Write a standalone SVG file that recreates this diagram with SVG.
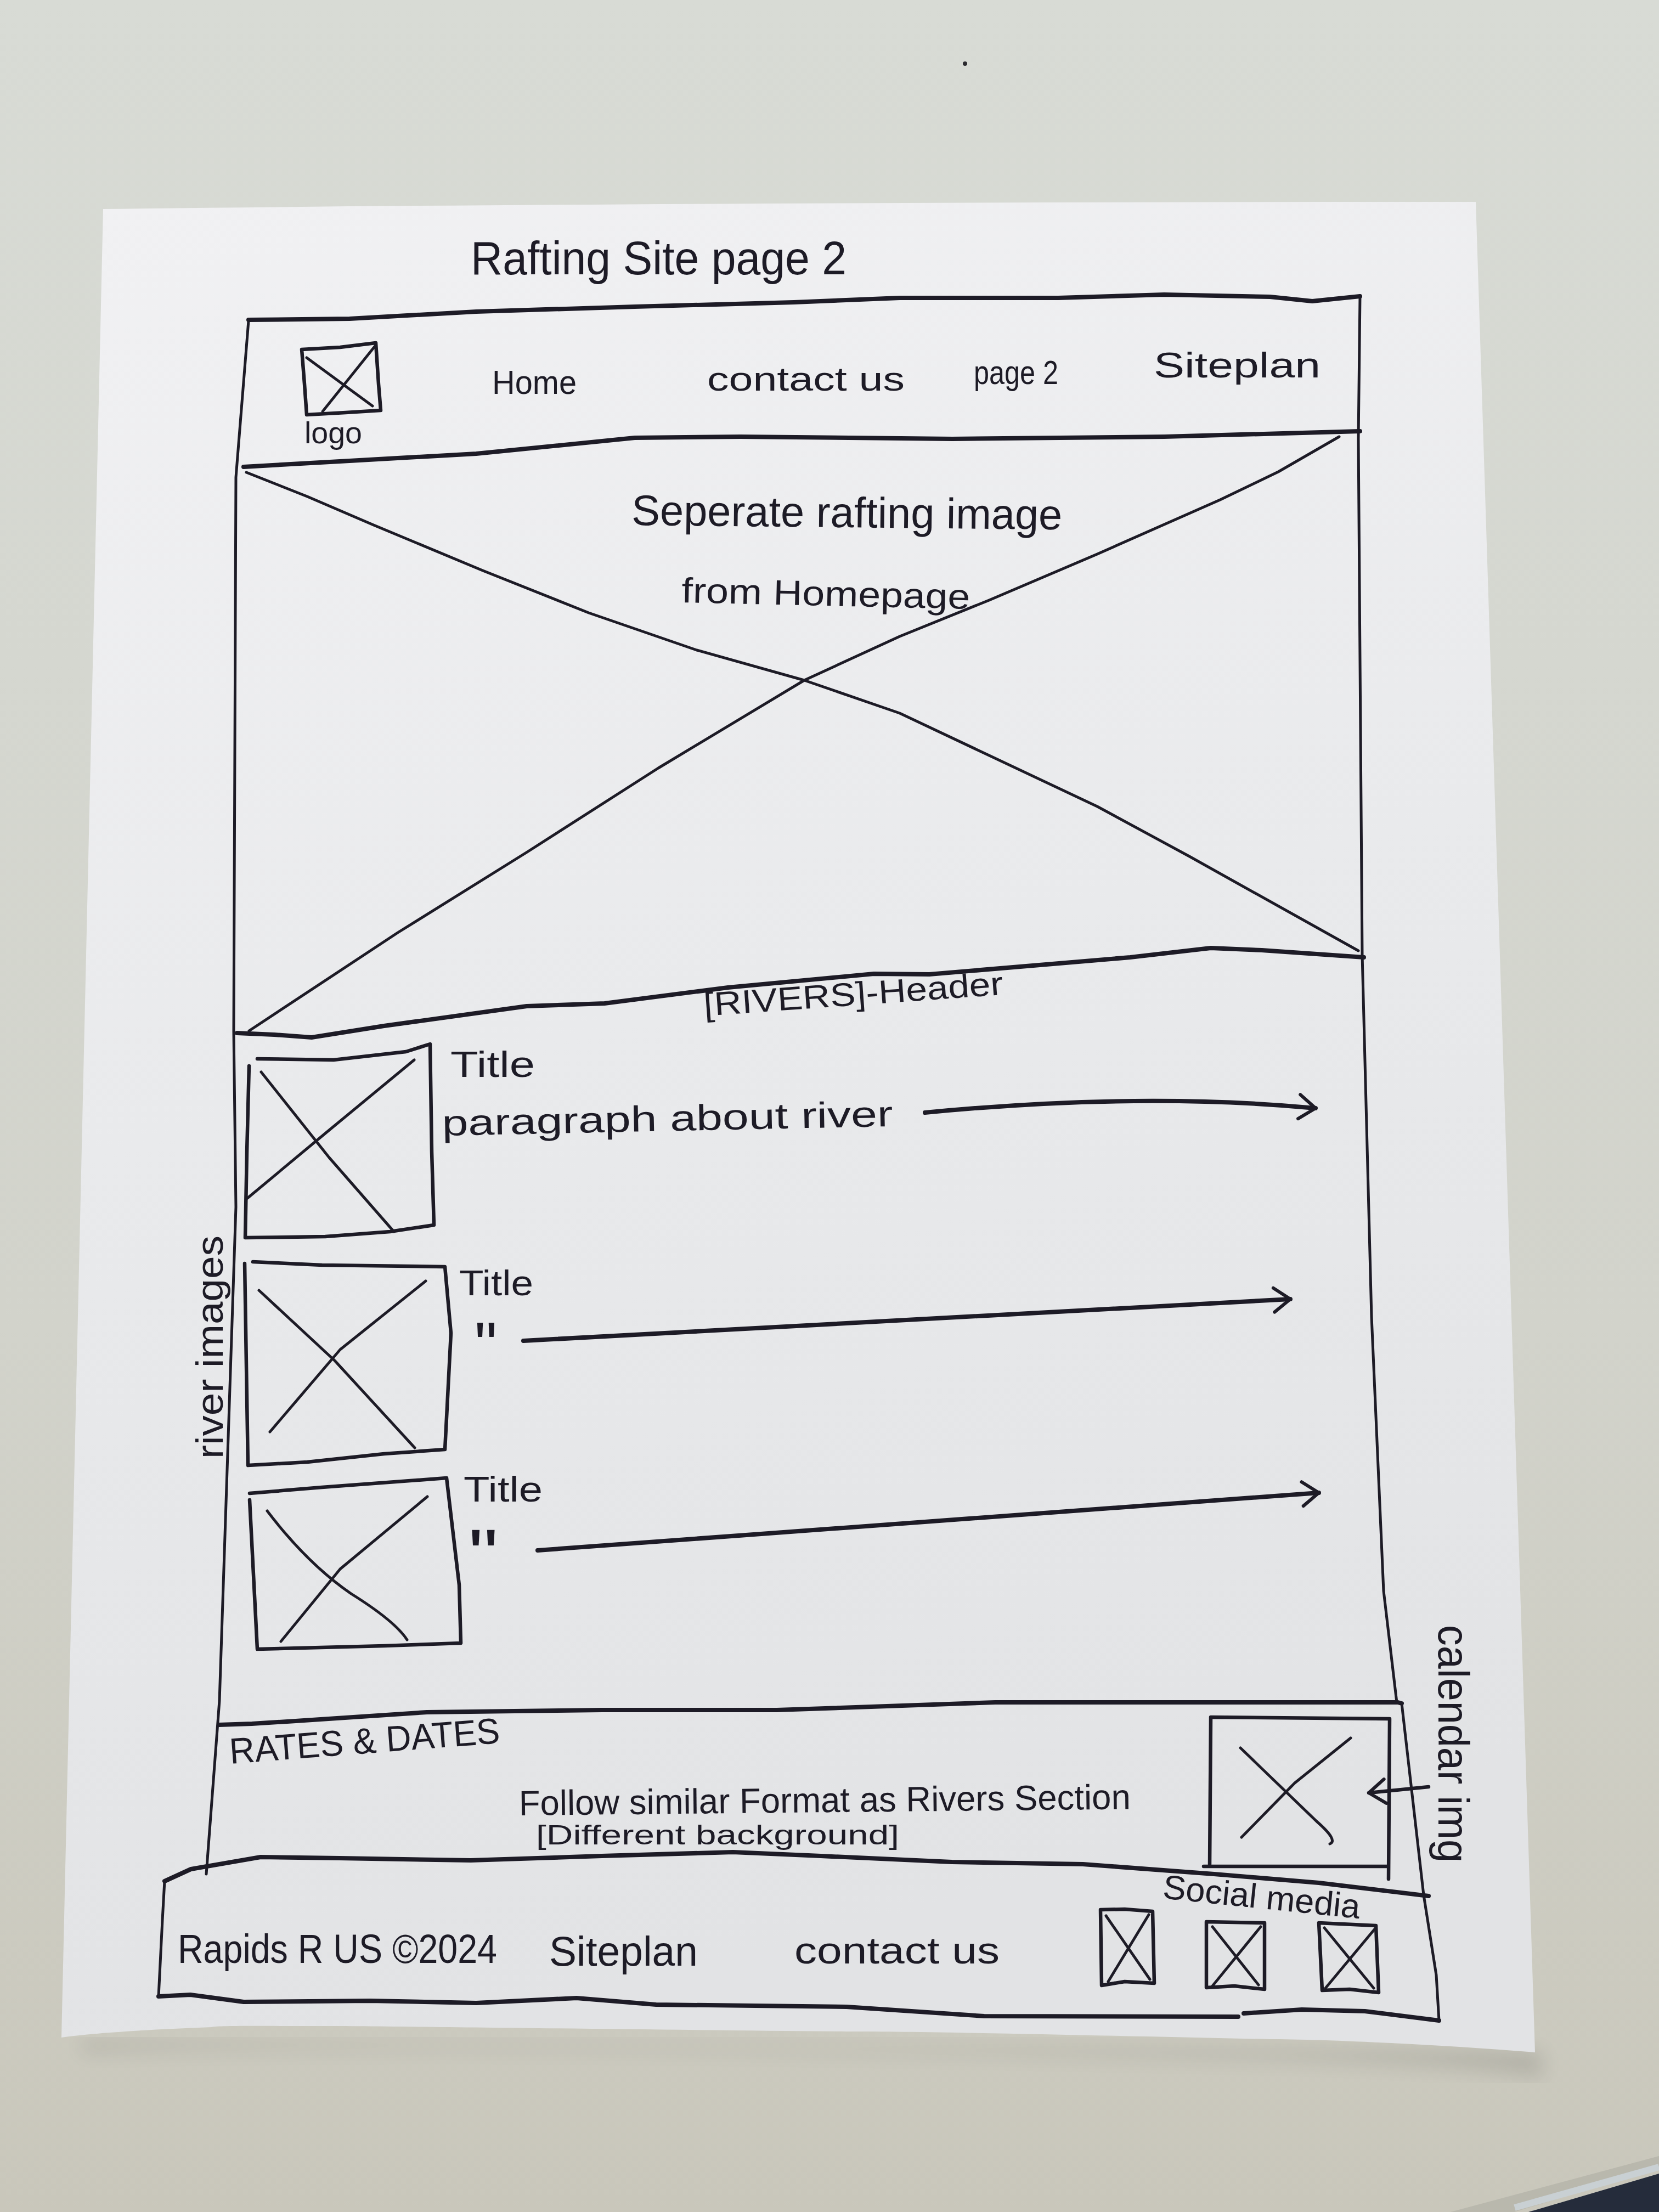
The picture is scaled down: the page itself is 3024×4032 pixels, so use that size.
<svg xmlns="http://www.w3.org/2000/svg" width="3024" height="4032" viewBox="0 0 3024 4032">
  <defs>
    <linearGradient id="desk" x1="0" y1="0" x2="0" y2="1">
      <stop offset="0" stop-color="#d8dbd5"/>
      <stop offset="0.6" stop-color="#d2d3cb"/>
      <stop offset="1" stop-color="#c9c7bb"/>
    </linearGradient>
    <linearGradient id="sheet" x1="0" y1="0" x2="0.2" y2="1">
      <stop offset="0" stop-color="#f1f1f3"/>
      <stop offset="0.5" stop-color="#e9eaec"/>
      <stop offset="1" stop-color="#e2e3e5"/>
    </linearGradient>
    <filter id="soft" x="-10%" y="-10%" width="120%" height="120%">
      <feGaussianBlur stdDeviation="18"/>
    </filter>
    <marker id="arrow" viewBox="0 0 40 60" refX="36" refY="30" markerWidth="40" markerHeight="60" markerUnits="userSpaceOnUse" orient="auto">
      <path d="M6,8 L36,30 L6,52" fill="none" stroke="#1d1b26" stroke-width="6" stroke-linecap="round" stroke-linejoin="round"/>
    </marker>
    <style>
      .ink{fill:none;stroke:#1d1b26;stroke-linecap:round;stroke-linejoin:round}
      .thick{stroke-width:8}
      .med{stroke-width:6.5}
      .thin{stroke-width:5}
      .hand{font-family:"Liberation Sans","DejaVu Sans",Arial,sans-serif;fill:#1d1b26}
    </style>
  </defs>

  <!-- desk and sheet -->
  <rect x="0" y="0" width="3024" height="4032" fill="url(#desk)"/>
  <path d="M150,3740 C400,3725 1500,3735 2330,3752 C2600,3760 2780,3775 2810,3790 L2810,3740 L150,3720 Z" fill="#000" opacity="0.12" filter="url(#soft)"/>
  <path d="M188,381 C900,372 1800,368 2690,368 L2798,3741 C2600,3725 2400,3717 2315,3717 C2000,3710 1700,3703 1543,3703 C1200,3700 700,3693 579,3693 C470,3693 400,3692 386,3695 C250,3700 150,3708 112,3714 Z" fill="url(#sheet)"/>
  <circle cx="1759" cy="116" r="4" fill="#2a2a2e"/>
  <!-- chair edge in the corner -->
  <path d="M2644,4032 L3024,3930 L3024,3952 L2760,4032 Z" fill="#b9b8ad"/>
  <path d="M2761,4024 L3024,3950" fill="none" stroke="#c9d0d3" stroke-width="12"/>
  <path d="M2786,4032 L3024,3962 L3024,4032 Z" fill="#252c3b"/>

  <!-- page title -->
  <g id="page-title">
    <text class="hand" x="858" y="500" font-size="86" textLength="685" lengthAdjust="spacingAndGlyphs">Rafting Site page 2</text>
  </g>

  <!-- outer page frame -->
  <g id="page-frame">
    <path class="ink thick" d="M453,583 L637,581 L868,568 L1157,559 L1447,551 L1640,543 L1929,543 L2122,537 L2315,541 L2392,549 L2479,540"/>
    <path class="ink thin" d="M453,585 L430,870 L426,1880 L430,2200 L400,3100 L376,3416"/>
    <path class="ink thin" d="M2479,540 L2476,800 L2483,1740 L2500,2400 L2522,2900 L2546,3103"/>
  </g>

  <!-- navigation bar -->
  <g id="nav-bar">
    <path class="ink thick" d="M444,851 L637,840 L868,827 L1157,798 L1350,796 L1736,800 L2122,796 L2479,786"/>
    <text class="hand" x="897" y="718" font-size="62" textLength="154" lengthAdjust="spacingAndGlyphs">Home</text>
    <text class="hand" x="1289" y="712" font-size="62" textLength="360" lengthAdjust="spacingAndGlyphs">contact us</text>
    <text class="hand" x="1775" y="700" font-size="62" textLength="154" lengthAdjust="spacingAndGlyphs">page 2</text>
    <text class="hand" x="2103" y="688" font-size="64" textLength="304" lengthAdjust="spacingAndGlyphs">Siteplan</text>
  </g>

  <g id="logo">
    <path class="ink med" d="M550,637 L620,633 L685,625 L690,700 L694,748 L630,752 L559,756 L555,700 Z"/>
    <path class="ink thin" d="M559,652 L679,740 M685,629 L588,750"/>
    <text class="hand" x="555" y="808" font-size="56" textLength="105" lengthAdjust="spacingAndGlyphs">logo</text>
  </g>

  <!-- hero image placeholder -->
  <g id="hero-image">
    <path class="ink thin" d="M449,861 L560,905 L681,957 L880,1040 L1073,1117 L1270,1185 L1466,1240 L1640,1300 L1803,1377 L2000,1470 L2168,1561 L2476,1733"/>
    <path class="ink thin" d="M2441,796 L2330,860 L2224,911 L2000,1010 L1803,1094 L1640,1160 L1466,1240 L1200,1400 L961,1553 L725,1700 L454,1879"/>
    <path class="ink thick" d="M432,1883 L500,1886 L568,1891 L700,1870 L960,1834 L1102,1829 L1327,1800 L1593,1775 L1694,1776 L2060,1745 L2207,1728 L2300,1732 L2486,1745"/>
    <text class="hand" x="1151" y="957" font-size="78" textLength="785" lengthAdjust="spacingAndGlyphs" transform="rotate(0.6 1151 957)">Seperate rafting image</text>
    <text class="hand" x="1242" y="1098" font-size="64" textLength="526" lengthAdjust="spacingAndGlyphs" transform="rotate(1.3 1242 1098)">from Homepage</text>
  </g>

  <!-- rivers section -->
  <g id="rivers-section">
    <text class="hand" x="1284" y="1852" font-size="60" textLength="547" lengthAdjust="spacingAndGlyphs" transform="rotate(-4.1 1284 1852)">[RIVERS]-Header</text>
    <text class="hand" x="406" y="2659" font-size="68" textLength="407" lengthAdjust="spacingAndGlyphs" transform="rotate(-90 406 2659)">river images</text>
  </g>

  <g id="river-1">
    <path class="ink med" d="M469,1930 L608,1932 L740,1917 L784,1903 L787,2100 L791,2233 L711,2245 L593,2254 L447,2256 L450,2100 L454,1943"/>
    <path class="ink thin" d="M476,1954 L600,2110 L718,2245 M755,1932 L600,2060 L451,2184"/>
    <text class="hand" x="821" y="1963" font-size="66" textLength="154" lengthAdjust="spacingAndGlyphs">Title</text>
    <text class="hand" x="806" y="2070" font-size="66" textLength="822" lengthAdjust="spacingAndGlyphs" transform="rotate(-1.2 806 2070)">paragraph about river</text>
  </g>

  <g id="river-2">
    <path class="ink med" d="M461,2300 L587,2306 L811,2309 L822,2430 L811,2642 L700,2650 L560,2665 L452,2671 L446,2303"/>
    <path class="ink thin" d="M472,2352 L610,2480 L756,2639 M776,2335 L620,2460 L492,2610"/>
    <text class="hand" x="837" y="2361" font-size="64" textLength="135" lengthAdjust="spacingAndGlyphs">Title</text>
    <text class="hand" x="865" y="2494" font-size="120" textLength="41" lengthAdjust="spacingAndGlyphs">"</text>
  </g>

  <g id="river-3">
    <path class="ink med" d="M455,2722 L587,2711 L814,2694 L837,2889 L840,2995 L700,3000 L469,3006 L455,2734"/>
    <path class="ink thin" d="M487,2754 Q560,2850 640,2905 Q720,2955 742,2989 M779,2728 L620,2860 L512,2992"/>
    <text class="hand" x="845" y="2737" font-size="64" textLength="144" lengthAdjust="spacingAndGlyphs">Title</text>
    <text class="hand" x="854" y="2878" font-size="130" textLength="54" lengthAdjust="spacingAndGlyphs">"</text>
  </g>

  <!-- rates and dates section -->
  <g id="rates-dates">
    <path class="ink thick" d="M399,3144 L459,3142 L539,3137 L778,3121 L1097,3117 L1416,3117 L1814,3103 L2548,3103 L2555,3105"/>
    <path class="ink thin" d="M2555,3105 L2595,3454 L2618,3600 L2623,3683"/>
    <text class="hand" x="420" y="3215" font-size="66" textLength="494" lengthAdjust="spacingAndGlyphs" transform="rotate(-4.4 420 3215)">RATES &amp; DATES</text>
    <text class="hand" x="946" y="3309" font-size="64" textLength="1115" lengthAdjust="spacingAndGlyphs" transform="rotate(-0.6 946 3309)">Follow similar Format as Rivers Section</text>
    <text class="hand" x="977" y="3362" font-size="50" textLength="662" lengthAdjust="spacingAndGlyphs">[Different background]</text>
  </g>

  <g id="calendar-img">
    <path class="ink med" d="M2207,3130 L2533,3133 L2531,3425 M2194,3402 L2531,3402 M2207,3130 L2205,3398"/>
    <path class="ink thin" d="M2261,3186 L2400,3320 Q2440,3355 2424,3361 M2462,3168 L2360,3250 L2263,3349"/>
    <text class="hand" x="2622" y="2962" font-size="80" textLength="433" lengthAdjust="spacingAndGlyphs" transform="rotate(90 2622 2962)">calendar img</text>
  </g>

  <!-- footer -->
  <g id="footer">
    <path class="ink thick" d="M300,3429 L348,3407 L475,3385 L619,3387 L858,3391 L1097,3383 L1336,3376 L1496,3383 L1735,3394 L1974,3398 L2213,3416 L2404,3432 L2604,3456"/>
    <path class="ink thin" d="M300,3429 L296,3500 L289,3639"/>
    <path class="ink thick" d="M289,3639 L347,3636 L444,3649 L675,3647 L868,3651 L1051,3642 L1196,3654 L1543,3658 L1794,3675 L2257,3676 M2267,3670 L2373,3663 L2488,3666 L2623,3683"/>
    <text class="hand" x="324" y="3578" font-size="74" textLength="582" lengthAdjust="spacingAndGlyphs">Rapids R US ©2024</text>
    <text class="hand" x="1001" y="3583" font-size="76" textLength="271" lengthAdjust="spacingAndGlyphs">Siteplan</text>
    <text class="hand" x="1448" y="3579" font-size="68" textLength="374" lengthAdjust="spacingAndGlyphs">contact us</text>
    <text class="hand" x="2118" y="3460" font-size="62" textLength="361" lengthAdjust="spacingAndGlyphs" transform="rotate(5.9 2118 3460)">Social media</text>
  </g>

  <g id="social-icons">
    <path class="ink med" d="M2006,3481 L2050,3480 L2101,3484 L2104,3615 L2050,3612 L2008,3619 Z"/>
    <path class="ink thin" d="M2016,3492 L2096,3608 M2094,3490 L2020,3612"/>
    <path class="ink med" d="M2199,3503 L2305,3505 L2305,3626 L2250,3620 L2199,3623 Z"/>
    <path class="ink thin" d="M2210,3512 L2294,3618 M2298,3512 L2210,3620"/>
    <path class="ink med" d="M2404,3505 L2508,3510 L2513,3632 L2460,3626 L2410,3628 Z"/>
    <path class="ink thin" d="M2414,3514 L2504,3624 M2506,3516 L2416,3624"/>
  </g>

  <!-- annotation arrows -->
  <g id="connectors">
    <path class="ink thick" d="M1686,2028 Q2078,1990 2398,2020" marker-end="url(#arrow)"/>
    <path class="ink thick" d="M954,2444 L2352,2368" marker-end="url(#arrow)"/>
    <path class="ink thick" d="M980,2826 L2404,2721" marker-end="url(#arrow)"/>
    <path class="ink med" d="M2604,3257 L2495,3268" marker-end="url(#arrow)"/>
  </g>
</svg>
